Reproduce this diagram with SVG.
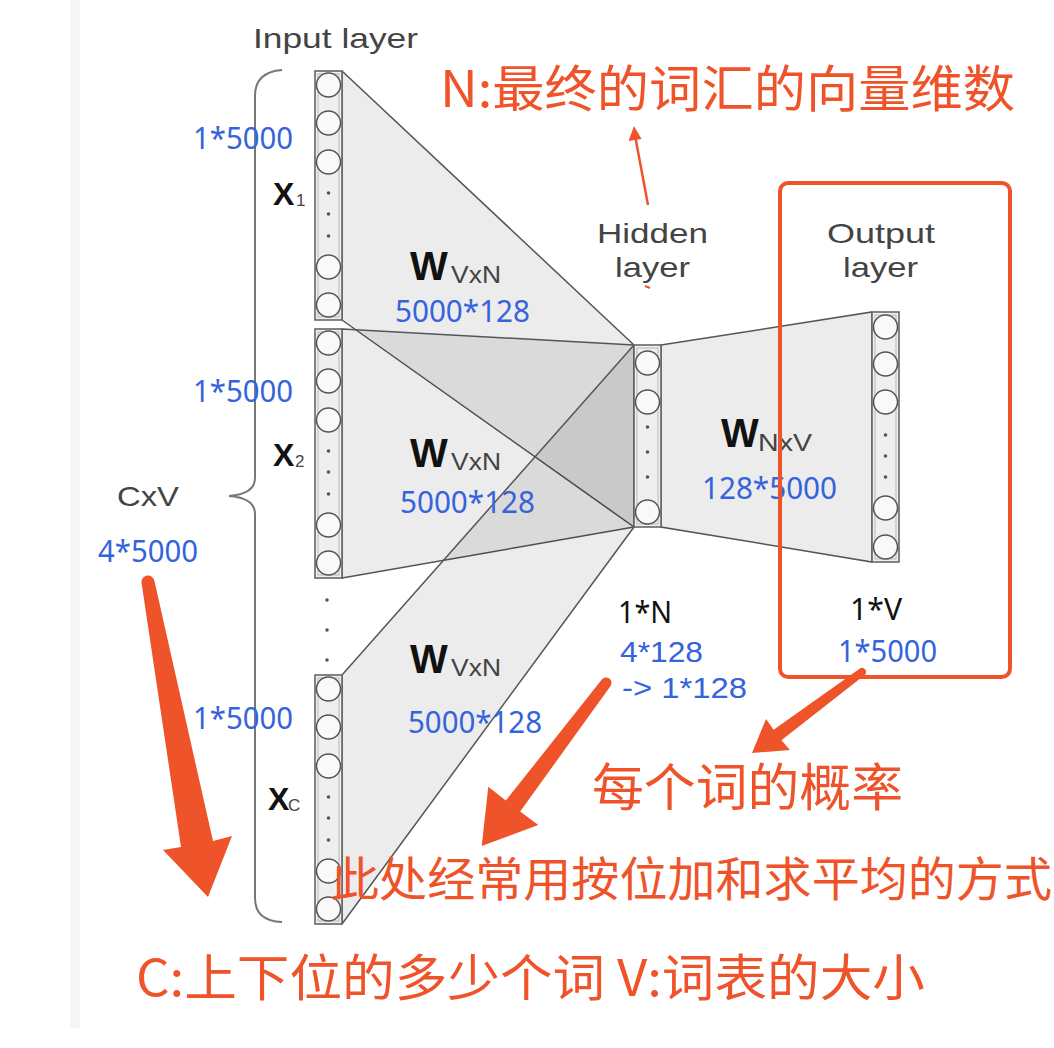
<svg xmlns="http://www.w3.org/2000/svg" width="1054" height="1048" viewBox="0 0 1054 1048">
<style>
.lbl{font-family:"Liberation Sans","DejaVu Sans",sans-serif;fill:#444}
.num{font-family:"Noto Sans","Liberation Sans",sans-serif;fill:#3563dc;font-size:30px}
.numl{font-family:"Liberation Sans",sans-serif;fill:#3563dc;font-size:29px}
.blk{font-family:"Noto Sans","Liberation Sans",sans-serif;fill:#111;font-size:30px}
.w{font-family:"Liberation Sans",sans-serif;font-weight:bold;fill:#111;font-size:40px}
.sub{font-family:"Liberation Sans",sans-serif;fill:#444;font-size:24px}
.xb{font-family:"Liberation Sans",sans-serif;font-weight:bold;fill:#111;font-size:32px}
.xs{font-family:"Liberation Sans",sans-serif;fill:#444;font-size:17px}
.cn{font-family:"Noto Sans CJK SC","Liberation Sans",sans-serif;fill:#ef5329}
.trap{fill:#000;fill-opacity:0.075;stroke:#555;stroke-width:1.5;stroke-linejoin:round}
.col{fill:#efefef;stroke:#666;stroke-width:1.6}
.inner{fill:none;stroke:#aaa;stroke-width:0.8}
.cir{fill:#f9f9f9;stroke:#555;stroke-width:1.5}
.dot{fill:#555}
.arrow{fill:#ef5329}
</style>
<rect x="0" y="0" width="1054" height="1048" fill="#fff"/>
<rect x="70" y="0" width="10" height="1028" fill="#f6f6f6"/>

<g id="connectors">
<polygon class="trap" points="342,71 634,345 634,527 342,320"/>
<polygon class="trap" points="342,329 634,345 634,527 342,578"/>
<polygon class="trap" points="342,675 634,345 634,527 342,924"/>
<polygon points="661,345 872,312 872,562 661,527" fill="#ececec" stroke="#555" stroke-width="1.5"/>
</g>

<g id="brace">
<path d="M282 70 Q255 72 255 96 L255 478 Q255 494 229 496 Q255 498 255 514 L255 898 Q255 921 282 922" fill="none" stroke="#777" stroke-width="2"/>
</g>

<g id="input-x1">
<rect class="col" x="315" y="71" width="27" height="249"/>
<rect class="inner" x="318" y="74" width="21" height="243"/>
<circle class="cir" cx="328.5" cy="85" r="12"/>
<circle class="cir" cx="328.5" cy="123" r="12"/>
<circle class="cir" cx="328.5" cy="162" r="12"/>
<circle class="dot" cx="328.5" cy="193" r="1.8"/>
<circle class="dot" cx="328.5" cy="214" r="1.8"/>
<circle class="dot" cx="328.5" cy="236" r="1.8"/>
<circle class="cir" cx="328.5" cy="267" r="12"/>
<circle class="cir" cx="328.5" cy="305" r="12"/>
</g>

<g id="input-x2">
<rect class="col" x="315" y="329" width="27" height="249"/>
<rect class="inner" x="318" y="332" width="21" height="243"/>
<circle class="cir" cx="328.5" cy="343" r="12"/>
<circle class="cir" cx="328.5" cy="381" r="12"/>
<circle class="cir" cx="328.5" cy="420" r="12"/>
<circle class="dot" cx="328.5" cy="451" r="1.8"/>
<circle class="dot" cx="328.5" cy="472" r="1.8"/>
<circle class="dot" cx="328.5" cy="494" r="1.8"/>
<circle class="cir" cx="328.5" cy="525" r="12"/>
<circle class="cir" cx="328.5" cy="563" r="12"/>
</g>

<g id="input-dots">
<circle class="dot" cx="327" cy="600" r="1.8"/>
<circle class="dot" cx="327" cy="630" r="1.8"/>
<circle class="dot" cx="327" cy="660" r="1.8"/>
</g>

<g id="input-xc">
<rect class="col" x="315" y="675" width="27" height="249"/>
<rect class="inner" x="318" y="678" width="21" height="243"/>
<circle class="cir" cx="328.5" cy="689" r="12"/>
<circle class="cir" cx="328.5" cy="727" r="12"/>
<circle class="cir" cx="328.5" cy="766" r="12"/>
<circle class="dot" cx="328.5" cy="797" r="1.8"/>
<circle class="dot" cx="328.5" cy="818" r="1.8"/>
<circle class="dot" cx="328.5" cy="840" r="1.8"/>
<circle class="cir" cx="328.5" cy="871" r="12"/>
<circle class="cir" cx="328.5" cy="909" r="12"/>
</g>

<g id="hidden">
<rect class="col" x="634" y="345" width="27" height="182"/>
<rect class="inner" x="637" y="348" width="21" height="176"/>
<circle class="cir" cx="647.5" cy="363" r="12"/>
<circle class="cir" cx="647.5" cy="402" r="12"/>
<circle class="dot" cx="647.5" cy="427" r="1.8"/>
<circle class="dot" cx="647.5" cy="452" r="1.8"/>
<circle class="dot" cx="647.5" cy="477" r="1.8"/>
<circle class="cir" cx="647.5" cy="512" r="12"/>
</g>

<g id="output">
<rect class="col" x="872" y="312" width="27" height="250"/>
<rect class="inner" x="875" y="315" width="21" height="244"/>
<circle class="cir" cx="885.5" cy="327" r="12"/>
<circle class="cir" cx="885.5" cy="364" r="12"/>
<circle class="cir" cx="885.5" cy="402" r="12"/>
<circle class="dot" cx="885.5" cy="435" r="1.8"/>
<circle class="dot" cx="885.5" cy="456" r="1.8"/>
<circle class="dot" cx="885.5" cy="477" r="1.8"/>
<circle class="cir" cx="885.5" cy="508" r="12"/>
<circle class="cir" cx="885.5" cy="547" r="12"/>
</g>

<g id="labels">
<text class="lbl" x="253" y="48" font-size="28" textLength="165" lengthAdjust="spacingAndGlyphs">Input layer</text>
<text class="num" x="193" y="149" textLength="100" lengthAdjust="spacingAndGlyphs">1*5000</text>
<text class="num" x="193" y="402" textLength="100" lengthAdjust="spacingAndGlyphs">1*5000</text>
<text class="num" x="193" y="729" textLength="100" lengthAdjust="spacingAndGlyphs">1*5000</text>
<text class="xb" x="273" y="205">X</text><text class="xs" x="296" y="206">1</text>
<text class="xb" x="273" y="466">X</text><text class="xs" x="295" y="467">2</text>
<text class="xb" x="268" y="810">X</text><text class="xs" x="288" y="811">C</text>
<text class="lbl" x="117" y="506" font-size="28" textLength="62" lengthAdjust="spacingAndGlyphs">CxV</text>
<text class="num" x="98" y="562" textLength="100" lengthAdjust="spacingAndGlyphs">4*5000</text>

<text class="w" x="410" y="280">W</text><text class="sub" x="451" y="283" textLength="50" lengthAdjust="spacingAndGlyphs">VxN</text>
<text class="num" x="395" y="322" textLength="135" lengthAdjust="spacingAndGlyphs">5000*128</text>
<text class="w" x="410" y="467">W</text><text class="sub" x="451" y="470" textLength="50" lengthAdjust="spacingAndGlyphs">VxN</text>
<text class="num" x="400" y="513" textLength="135" lengthAdjust="spacingAndGlyphs">5000*128</text>
<text class="w" x="410" y="673">W</text><text class="sub" x="451" y="676" textLength="50" lengthAdjust="spacingAndGlyphs">VxN</text>
<text class="num" x="408" y="733" textLength="134" lengthAdjust="spacingAndGlyphs">5000*128</text>
<text class="w" x="721" y="447">W</text><text class="sub" x="758" y="451" textLength="54" lengthAdjust="spacingAndGlyphs">NxV</text>
<text class="num" x="702" y="499" textLength="135" lengthAdjust="spacingAndGlyphs">128*5000</text>

<text class="lbl" x="597" y="243" font-size="28" textLength="111" lengthAdjust="spacingAndGlyphs">Hidden</text>
<text class="lbl" x="615" y="277" font-size="28" textLength="75" lengthAdjust="spacingAndGlyphs">layer</text>
<text class="lbl" x="827" y="243" font-size="28" textLength="108" lengthAdjust="spacingAndGlyphs">Output</text>
<text class="lbl" x="843" y="277" font-size="28" textLength="75" lengthAdjust="spacingAndGlyphs">layer</text>

<text class="blk" x="618" y="623" textLength="54" lengthAdjust="spacingAndGlyphs">1*N</text>
<text class="numl" x="620" y="662" textLength="83" lengthAdjust="spacingAndGlyphs">4*128</text>
<text class="numl" x="622" y="698" textLength="125" lengthAdjust="spacingAndGlyphs">-&gt; 1*128</text>
<text class="blk" x="850" y="620" textLength="52" lengthAdjust="spacingAndGlyphs">1*V</text>
<text class="num" x="838" y="662" textLength="99" lengthAdjust="spacingAndGlyphs">1*5000</text>
</g>

<g id="highlight-box">
<rect x="780" y="183" width="230" height="494" rx="8" fill="none" stroke="#ef5329" stroke-width="4"/>
</g>

<g id="annotation-arrows">
<path class="arrow" d="M154.4 580.8 L213 841 L232 836 L208 897 L163 850 L181 847 L141.6 583.2 A6.5 6.5 0 0 1 154.4 580.8 Z"/>
<path class="arrow" d="M610.4 686.3 L520.2 811.4 L538.3 825 L481.7 846 L488.3 786.7 L505.8 800.6 L601.6 679.7 A5.5 5.5 0 0 1 610.4 686.3 Z"/>
<path class="arrow" d="M864.4 675.2 L781.4 740.2 L790 750 L752 753 L766 719 L773.6 729.8 L859.6 668.8 A4 4 0 0 1 864.4 675.2 Z"/>
<line x1="648" y1="205" x2="635.5" y2="138" stroke="#ef5329" stroke-width="2.5"/>
<polygon class="arrow" points="634,126 628.5,141 641.5,139"/>
<path d="M645 286 L650 288" stroke="#ef5329" stroke-width="2" fill="none"/>
</g>

<g id="annotations">
<text class="cn" x="440" y="107" font-size="50" textLength="575" lengthAdjust="spacingAndGlyphs">N:最终的词汇的向量维数</text>
<text class="cn" x="592" y="806" font-size="51" textLength="311" lengthAdjust="spacingAndGlyphs">每个词的概率</text>
<text class="cn" x="331" y="896" font-size="47" textLength="721" lengthAdjust="spacingAndGlyphs">此处经常用按位加和求平均的方式</text>
<text class="cn" x="136" y="996" font-size="50" textLength="789" lengthAdjust="spacingAndGlyphs">C:上下位的多少个词 V:词表的大小</text>
</g>
</svg>
